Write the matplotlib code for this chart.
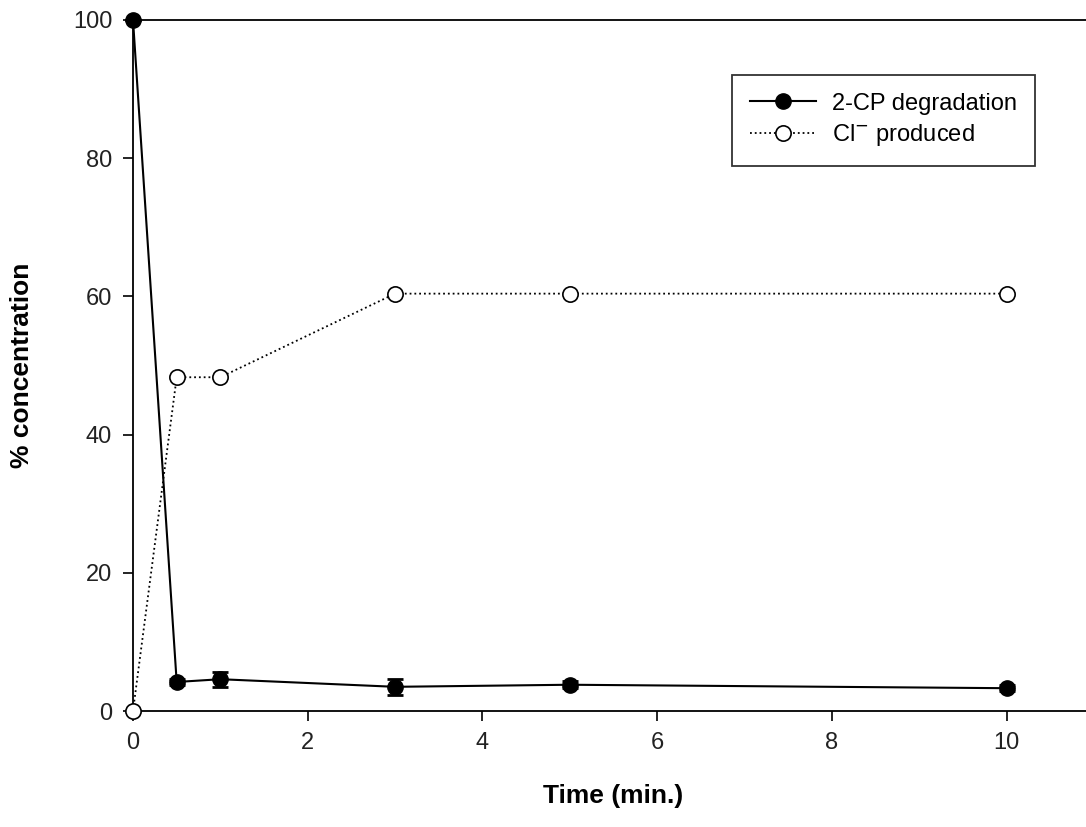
import numpy as np
import matplotlib.pyplot as plt
from matplotlib.lines import Line2D

plt.rcParams['font.family'] = ['Liberation Sans', 'DejaVu Sans']

# data
time_min = [0, 0.5, 1, 3, 5, 10]
cp_degradation = [100, 4.2, 4.6, 3.5, 3.8, 3.3]
cp_err = [0, 0.5, 1.1, 1.2, 0.5, 0.4]
cl_produced = [0, 48.3, 48.3, 60.4, 60.4, 60.4]

fig = plt.figure(figsize=(10.86, 8.27), dpi=100)
ax = fig.add_axes([133 / 1086, 116 / 827, 961 / 1086, 691 / 827])

ax.errorbar(time_min, cp_degradation, yerr=cp_err, color='black', lw=1.5,
            marker='o', ms=11, mfc='black', mec='black', capsize=6,
            elinewidth=2, capthick=2, clip_on=False, zorder=3)
ax.plot(time_min, cl_produced, color='black', lw=1.3, ls=':',
        marker='o', ms=11, mfc='white', mec='black', mew=1.2,
        clip_on=False, zorder=4)

ax.set_xlim(0, 11)
ax.set_ylim(0, 100)
ax.set_xticks([0, 2, 4, 6, 8, 10])
ax.set_yticks([0, 20, 40, 60, 80, 100])
ax.tick_params(direction='out', length=7, width=1.2, labelsize=17,
               labelcolor='#222222', pad=8)
ax.spines['right'].set_visible(False)
for s in ['left', 'bottom', 'top']:
    ax.spines[s].set_linewidth(1.3)

ax.set_xlabel('Time (min.)', fontsize=19, fontweight='bold', labelpad=22)
ax.set_ylabel('% concentration', fontsize=19, fontweight='bold', labelpad=28)

handles = [
    Line2D([], [], color='black', lw=1.5, marker='o', ms=11, mfc='black'),
    Line2D([], [], color='black', lw=1.3, ls=':', marker='o', ms=11,
           mfc='white', mew=1.2),
]
labels = ['2-CP degradation', 'Cl$^{-}$ produced']
leg = ax.legend(handles, labels, loc='upper left',
                bbox_to_anchor=(599 / 961, 1 - 55 / 691), fontsize=17,
                frameon=True, fancybox=False, edgecolor='black',
                handlelength=2.8, borderpad=0.75, labelspacing=0.3,
                borderaxespad=0, handletextpad=0.7)
leg.get_frame().set_linewidth(1.3)

fig.savefig('out.png', dpi=100)
